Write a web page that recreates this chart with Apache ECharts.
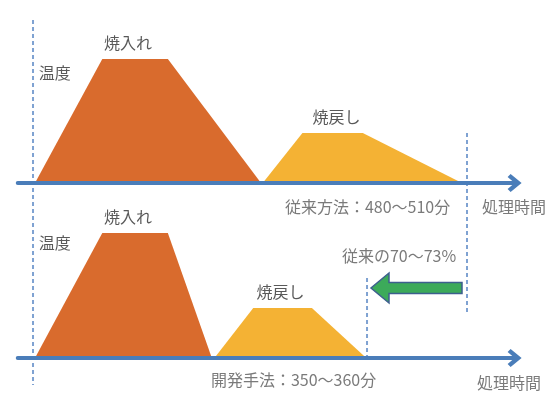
<!DOCTYPE html>
<html><head><meta charset="utf-8">
<script src="https://cdn.jsdelivr.net/npm/echarts@6/dist/echarts.min.js"></script>
<style>html,body{margin:0;padding:0;background:#fff}#c{width:556px;height:405px}</style>
</head><body><div id="c"></div>
<script>
// ---- data (time in minutes-like units, temperature in relative units) ----
const stageNames = ['焼入れ', '焼戻し'];
const topQuenchTime = [0, 78, 154, 262];
const topQuenchTemp = [0, 124, 124, 0];
const topTemperTime = [264, 310, 380, 495];
const topTemperTemp = [0, 50, 50, 0];
const botQuenchTime = [0, 78, 154, 205];
const botQuenchTemp = [0, 125, 125, 0];
const botTemperTime = [208, 253, 321, 384];
const botTemperTemp = [0, 50, 50, 0];
const conventionalEnd = 500.8;
const newEnd = 384.9;
const startTime = -2.3;
const noteTexts = ['従来方法：480～510分', '開発手法：350～360分', '従来の70～73%'];
const axisNames = ['温度', '処理時間'];

const FONT = '"Noto Sans CJK JP", "Noto Sans", sans-serif';
const FS = 16;
const TXT = '#595959';
const ORANGE = '#D96B2D', YELLOW = '#F4B234', AXIS = '#4A7DB9', DASH = '#7FA2D2';
const pairs = (xs, ys) => xs.map((x, i) => [x, ys[i]]);

function trap(gi, xs, ys, color, name, off) {
  return {
    type: 'line', xAxisIndex: gi, yAxisIndex: gi, data: pairs(xs, ys),
    symbol: 'none', lineStyle: {width: 0}, areaStyle: {color: color, opacity: 1},
    itemStyle: {color: color}, z: 2, silent: true,
    markPoint: {
      symbol: 'circle', symbolSize: 0, silent: true,
      data: [{coord: [(xs[1] + xs[2]) / 2, ys[1]]}],
      label: {show: true, position: 'top', distance: 8, offset: off, formatter: name,
        color: TXT, fontSize: FS, fontFamily: FONT}
    }
  };
}
function dashed(gi, x, y0, y1) {
  return {type: 'line', xAxisIndex: gi, yAxisIndex: gi, data: [[x, y0], [x, y1]], clip: false,
    symbol: 'none', silent: true, z: 1, lineStyle: {color: DASH, width: 2, type: [4, 3]}};
}
function note(gi, x, y, text) {
  return {type: 'scatter', xAxisIndex: gi, yAxisIndex: gi, clip: false, silent: true,
    data: [[x, y]], symbolSize: 1, itemStyle: {color: 'transparent'},
    label: {show: true, position: 'inside', formatter: text, color: TXT, fontSize: FS, fontFamily: FONT}};
}
function xAx(gi) {
  return {type: 'value', gridIndex: gi, min: -20, max: 556, z: 5,
    axisLine: {show: true, onZero: true, symbol: ['none', 'path://M9,0 L18,11 L15,14 L9,7 L3,14 L0,11 Z'],
      symbolSize: [18, 14], lineStyle: {color: AXIS, width: 4}},
    axisTick: {show: false}, axisLabel: {show: false}, splitLine: {show: false}};
}
function yAx(gi, min, max, gap) {
  return {type: 'value', gridIndex: gi, min: min, max: max,
    name: axisNames[0], nameLocation: 'end', nameGap: gap,
    nameTextStyle: {color: TXT, fontSize: FS, fontFamily: FONT, align: 'left', verticalAlign: 'middle', padding: [0, 0, 0, 21]},
    axisLine: {show: false, onZero: false}, axisTick: {show: false}, axisLabel: {show: false}, splitLine: {show: false}};
}

const chart = echarts.init(document.getElementById('c'), null, {renderer: 'canvas'});
chart.setOption({
  animation: false,
  grid: [
    {left: 17.75, width: 496.87, top: 20, height: 180},
    {left: 17.75, width: 496.87, top: 194, height: 191}
  ],
  xAxis: [xAx(0), xAx(1)],
  yAxis: [yAx(0, -17, 163, -53), yAx(1, -27, 164, -49)],
  series: [
    dashed(0, startTime, 163, -202),
    dashed(0, conventionalEnd, 50, -129),
    dashed(1, newEnd, 80, -2),
    trap(0, topQuenchTime, topQuenchTemp, ORANGE, stageNames[0], [-7, 0]),
    trap(0, topTemperTime, topTemperTemp, YELLOW, stageNames[1], [4, 0]),
    trap(1, botQuenchTime, botQuenchTemp, ORANGE, stageNames[0], [-7, 0]),
    trap(1, botTemperTime, botTemperTemp, YELLOW, stageNames[1], [-2, 0]),
    note(0, 385.5, -24, noteTexts[0]),
    note(1, 299.7, -22, noteTexts[1]),
    note(1, 422, 102, noteTexts[2]),
    note(0, 555.3, -24, axisNames[1]),
    note(1, 549.5, -25, axisNames[1]),
    {
      type: 'custom', xAxisIndex: 1, yAxisIndex: 1, silent: true, z: 4, clip: false,
      data: [[495, 389.5, 70]],
      renderItem: function (params, api) {
        const p0 = api.coord([api.value(0), api.value(2)]);
        const p1 = api.coord([api.value(1), api.value(2)]);
        const sh = 5.5, hh = 15, hl = 18;
        const dir = p1[0] < p0[0] ? -1 : 1;
        const bx = p1[0] - dir * hl;
        const y = p0[1];
        return {type: 'polygon', shape: {points: [
          [p0[0], y - sh], [bx, y - sh], [bx, y - hh], [p1[0], y], [bx, y + hh], [bx, y + sh], [p0[0], y + sh]
        ]}, style: {fill: '#3CAA5A', stroke: '#3D5F8E', lineWidth: 1.5}};
      }
    }
  ]
});
</script></body></html>
